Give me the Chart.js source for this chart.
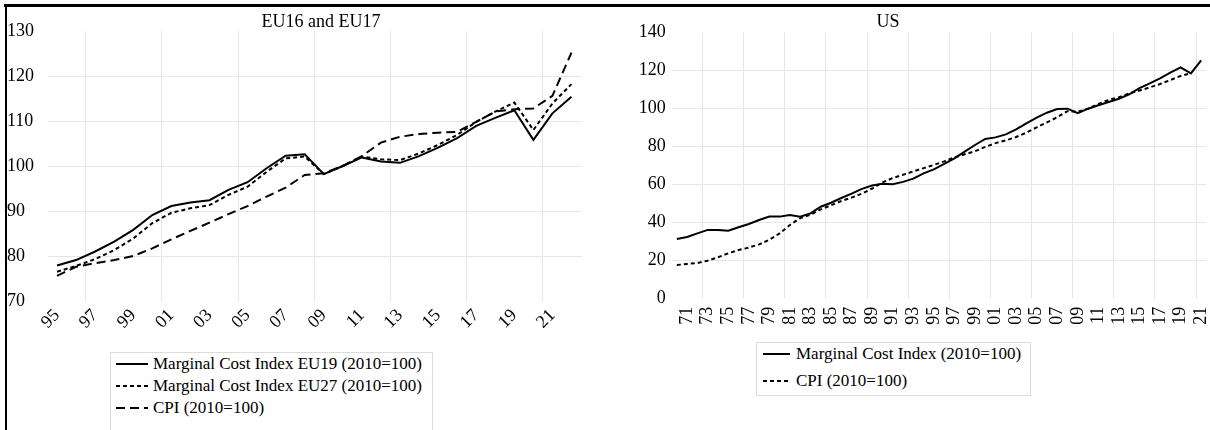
<!DOCTYPE html>
<html>
<head>
<title>Marginal cost index and CPI</title>
<script src="https://cdn.jsdelivr.net/npm/chart.js@4.4.1/dist/chart.umd.min.js"></script>
<style>
    body { margin: 0; width: 1210px; height: 430px; position: relative; overflow: hidden; background: #fff;
           font-family: 'Liberation Serif', 'Times New Roman', serif; color: #000; }
    canvas { position: absolute; top: 0; }
    .frame { position: absolute; background: #000; z-index: 5; }
    .title { position: absolute; top: 12px; font-size: 18px; line-height: 18px; transform: translateX(-50%); white-space: nowrap; }
    .legend { position: absolute; border: 1px solid #dcdcdc; background: #fff; font-size: 17px; box-sizing: border-box; }
    .legend div { display: flex; align-items: center; white-space: nowrap; height: 22px; }
    .legend svg { flex: none; }
</style>
</head>
<body>

<div class="frame" style="left:4px; top:4px; width:1206px; height:3px;"></div>
<div class="frame" style="left:5px; top:4px; width:2px; height:426px;"></div>

<canvas id="euChart" width="605" height="345" style="left:0px;"></canvas>
<canvas id="usChart" width="605" height="345" style="left:605px;"></canvas>

<div class="title" style="left:321px;">EU16 and EU17</div>
<div class="title" style="left:888px;">US</div>

<div id="euLegend" class="legend" style="left:110px; top:352px; width:323px; height:90px; padding:0 0 0 5px;"></div>
<div id="usLegend" class="legend" style="left:756px; top:342px; width:275px; height:54px; padding:0 0 0 6px;"></div>

<script>
    // EU panel, 1995-2022
    euYears = [1995, 1996, 1997, 1998, 1999, 2000, 2001, 2002, 2003, 2004, 2005, 2006, 2007, 2008,
               2009, 2010, 2011, 2012, 2013, 2014, 2015, 2016, 2017, 2018, 2019, 2020, 2021, 2022];
    euMci19 = [77.9, 79.1, 81.0, 83.2, 85.8, 89.1, 91.1, 91.9, 92.4, 94.7, 96.4, 99.5, 102.3, 102.6,
               98.2, 100.0, 101.9, 101.0, 100.7, 102.2, 104.1, 106.2, 108.9, 110.7, 112.4, 105.8, 111.7, 115.4];
    euMci27 = [76.5, 77.8, 79.3, 81.3, 83.9, 87.3, 89.6, 90.6, 91.3, 93.6, 95.4, 98.7, 101.7, 102.1,
               98.2, 100.0, 102.1, 101.5, 101.3, 102.8, 104.7, 106.9, 109.8, 112.1, 114.1, 108.0, 113.9, 118.2];
    euCpi   = [75.6, 77.6, 78.4, 79.1, 80.0, 81.7, 83.7, 85.6, 87.4, 89.3, 91.1, 93.2, 95.2, 98.0,
               98.4, 100.0, 102.2, 105.2, 106.5, 107.1, 107.4, 107.6, 109.8, 112.1, 112.6, 112.8, 115.6, 125.2];
    euTickYears = [1995, 1997, 1999, 2001, 2003, 2005, 2007, 2009, 2011, 2013, 2015, 2017, 2019, 2021];
    euGridYears = [1996.5, 2000.5, 2004.5, 2008.5, 2012.5, 2016.5, 2020.5];
    euYTicks = [70, 80, 90, 100, 110, 120, 130];

    // US panel, 1970-2021
    usYears = [1970, 1971, 1972, 1973, 1974, 1975, 1976, 1977, 1978, 1979,
               1980, 1981, 1982, 1983, 1984, 1985, 1986, 1987, 1988, 1989,
               1990, 1991, 1992, 1993, 1994, 1995, 1996, 1997, 1998, 1999,
               2000, 2001, 2002, 2003, 2004, 2005, 2006, 2007, 2008, 2009,
               2010, 2011, 2012, 2013, 2014, 2015, 2016, 2017, 2018, 2019,
               2020, 2021];
    usMci = [31.4, 32.5, 34.4, 36.2, 36.2, 35.8, 37.6, 39.3, 41.4, 43.2,
             43.2, 44.1, 43.2, 44.9, 48.4, 50.5, 53.0, 55.3, 57.8, 59.6,
             60.5, 60.2, 61.5, 63.2, 66.0, 68.1, 70.9, 73.9, 77.4, 80.9,
             84.1, 84.9, 86.5, 89.1, 92.3, 95.3, 97.9, 99.8, 100.0, 97.6,
             100.0, 101.8, 103.5, 105.2, 107.6, 110.8, 113.3, 116.0, 119.0, 121.8,
             118.6, 125.4];
    usCpi = [17.7, 18.3, 18.8, 20.0, 21.8, 23.9, 25.6, 26.9, 28.6, 31.0,
             34.4, 38.8, 42.4, 44.2, 47.0, 49.2, 51.4, 53.2, 55.3, 58.0,
             61.2, 63.5, 65.2, 67.0, 68.7, 70.4, 72.3, 74.4, 76.0, 77.6,
             79.9, 81.9, 83.3, 85.1, 87.4, 90.2, 92.8, 95.5, 98.7, 98.4,
             100.0, 102.5, 104.6, 106.0, 108.0, 109.6, 111.2, 113.0, 115.1, 117.2,
             118.6, null];
    usTickYears = [1971, 1973, 1975, 1977, 1979, 1981, 1983, 1985, 1987, 1989, 1991, 1993, 1995,
                   1997, 1999, 2001, 2003, 2005, 2007, 2009, 2011, 2013, 2015, 2017, 2019, 2021];
    usGridYears = [1972.5, 1976.5, 1980.5, 1984.5, 1988.5, 1992.5, 1996.5, 2000.5, 2004.5, 2008.5, 2012.5, 2016.5, 2020.5];
    usYTicks = [0, 20, 40, 60, 80, 100, 120, 140];

    gridColor = '#e6e6e6';
    Chart.defaults.font.family = "'Liberation Serif', 'Times New Roman', serif";
    Chart.defaults.color = '#000';

    function points(years, values) {
        return years.map((yr, i) => ({ x: yr, y: values[i] }));
    }

    function line(label, years, values, dash) {
        return {
            label: label,
            data: points(years, values),
            borderColor: '#000',
            borderWidth: 2,
            borderDash: dash,
            pointRadius: 0,
            tension: 0,
            spanGaps: false
        };
    }

    function setTicks(list) {
        return function (scale) { scale.ticks = list.map(v => ({ value: v })); };
    }

    function makeChart(canvasId, datasets, s) {
        return new Chart(document.getElementById(canvasId), {
            type: 'line',
            data: { datasets: datasets },
            options: {
                responsive: false,
                animation: false,
                layout: { padding: s.padding },
                plugins: { legend: { display: false }, tooltip: { enabled: false } },
                scales: {
                    x: {
                        type: 'linear', position: 'bottom',
                        min: s.xMin, max: s.xMax,
                        afterBuildTicks: setTicks(s.xTicks),
                        afterFit: function (scale) { scale.height = s.xHeight; scale.paddingLeft = 0; scale.paddingRight = 0; },
                        grid: { display: false, drawTicks: false },
                        border: { display: false },
                        ticks: {
                            autoSkip: false, minRotation: s.rotation, maxRotation: s.rotation,
                            padding: s.xPad, font: { size: 18 },
                            callback: v => String(v).slice(2)
                        }
                    },
                    xg: {
                        type: 'linear', position: 'bottom',
                        min: s.xMin, max: s.xMax,
                        afterBuildTicks: setTicks(s.gridYears),
                        afterFit: function (scale) { scale.height = 0; scale.paddingLeft = 0; scale.paddingRight = 0; },
                        grid: { color: gridColor, lineWidth: 1, drawTicks: false },
                        border: { display: false },
                        ticks: { display: false }
                    },
                    y: {
                        min: s.yMin, max: s.yMax,
                        afterBuildTicks: setTicks(s.yTicks),
                        afterFit: function (scale) { scale.width = s.yWidth; scale.paddingTop = 0; scale.paddingBottom = 0; },
                        grid: {
                            drawTicks: false,
                            color: ctx => (ctx.tick && (ctx.tick.value === s.yMin || ctx.tick.value === s.yMax)) ? 'rgba(0,0,0,0)' : gridColor
                        },
                        border: { display: false },
                        ticks: { padding: s.yPad, crossAlign: s.yAlign, font: { size: 18 } }
                    }
                }
            }
        });
    }

    euChart = makeChart('euChart', [
        line('Marginal Cost Index EU19 (2010=100)', euYears, euMci19, []),
        line('Marginal Cost Index EU27 (2010=100)', euYears, euMci27, [4, 3]),
        line('CPI (2010=100)', euYears, euCpi, [9, 5])
    ], {
        padding: { left: 7, top: 31, right: 24, bottom: 0 },
        xMin: 1994.5, xMax: 2022.5, xTicks: euTickYears, gridYears: euGridYears,
        xHeight: 44, rotation: 45, xPad: 4,
        yMin: 70, yMax: 130, yTicks: euYTicks, yWidth: 40.5, yPad: 0, yAlign: 'far'
    });

    usChart = makeChart('usChart', [
        line('Marginal Cost Index (2010=100)', usYears, usMci, []),
        line('CPI (2010=100)', usYears, usCpi, [4, 3])
    ], {
        padding: { left: 0, top: 32.7, right: 3.7, bottom: 0 },
        xMin: 1969.5, xMax: 2021.5, xTicks: usTickYears, gridYears: usGridYears,
        xHeight: 46.3, rotation: 90, xPad: 8,
        yMin: 0, yMax: 140, yTicks: usYTicks, yWidth: 66.7, yPad: 6, yAlign: 'near'
    });

    // legends drawn in html, one row per dataset
    function buildLegend(elId, chart, sampleWidth, gap, rowGap) {
        var box = document.getElementById(elId);
        chart.data.datasets.forEach(function (ds) {
            var row = document.createElement('div');
            row.style.marginBottom = rowGap + 'px';
            var dash = ds.borderDash.length ? ds.borderDash.join(' ') : 'none';
            row.innerHTML = '<svg width="' + sampleWidth + '" height="4" style="margin-right:' + gap + 'px">' +
                '<line x1="0" y1="2" x2="' + sampleWidth + '" y2="2" stroke="#000" stroke-width="2" stroke-dasharray="' + dash + '"/></svg>' +
                '<span>' + ds.label + '</span>';
            box.appendChild(row);
        });
    }
    buildLegend('euLegend', euChart, 32, 5, 0);
    buildLegend('usLegend', usChart, 27, 6, 5);
</script>
</body>
</html>
